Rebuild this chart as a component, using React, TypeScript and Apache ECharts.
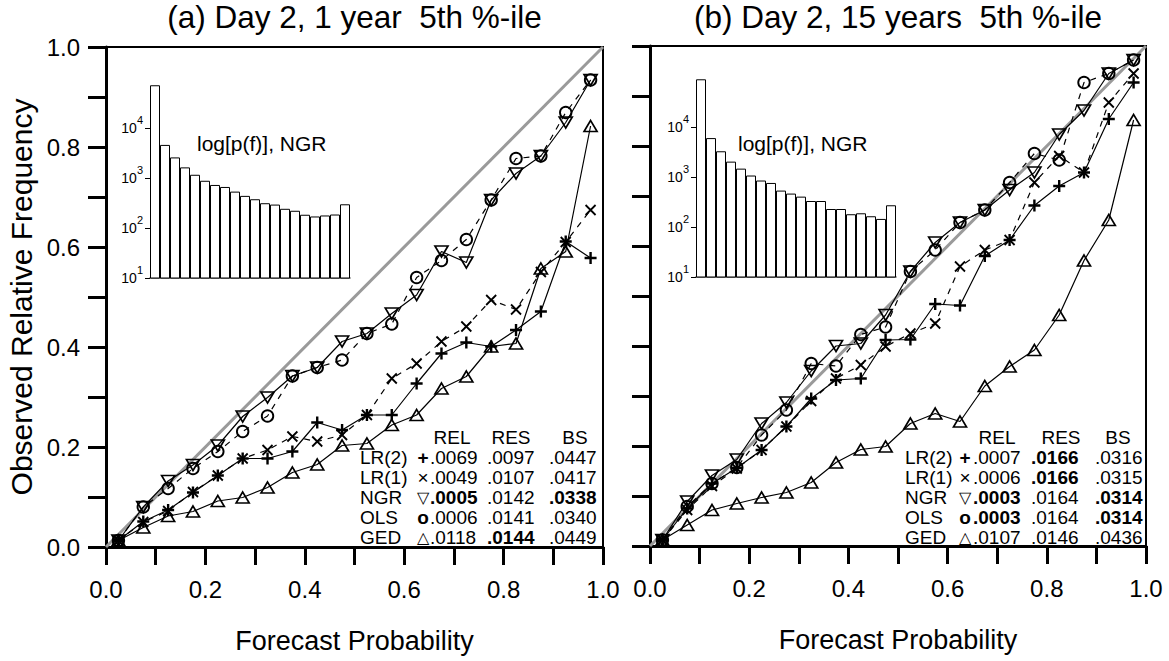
import React, { useEffect, useRef } from 'react';
import * as echarts from 'echarts';

// ---------- data ----------
const bins = [0.025, 0.075, 0.125, 0.175, 0.225, 0.275, 0.325, 0.375, 0.425, 0.475, 0.525, 0.575, 0.625, 0.675, 0.725, 0.775, 0.825, 0.875, 0.925, 0.975];

// panel (a): Day 2, 1 year
const lr2A = [0.013, 0.051, 0.074, 0.109, 0.143, 0.177, 0.177, 0.191, 0.249, 0.234, 0.264, 0.264, 0.327, 0.387, 0.409, 0.401, 0.434, 0.471, 0.611, 0.578];
const lr1A = [0.013, 0.05, 0.072, 0.11, 0.143, 0.177, 0.194, 0.221, 0.211, 0.224, 0.264, 0.337, 0.367, 0.411, 0.441, 0.494, 0.475, 0.55, 0.61, 0.674];
const ngrA = [0.013, 0.08, 0.132, 0.164, 0.203, 0.261, 0.299, 0.342, 0.359, 0.411, 0.427, 0.467, 0.504, 0.591, 0.569, 0.694, 0.747, 0.782, 0.849, 0.934];
const olsA = [0.013, 0.08, 0.117, 0.157, 0.191, 0.231, 0.262, 0.342, 0.359, 0.374, 0.427, 0.446, 0.539, 0.573, 0.615, 0.694, 0.777, 0.782, 0.869, 0.934];
const gedA = [0.013, 0.039, 0.062, 0.071, 0.092, 0.099, 0.119, 0.149, 0.165, 0.203, 0.207, 0.244, 0.264, 0.317, 0.341, 0.401, 0.407, 0.557, 0.591, 0.842];

// panel (b): Day 2, 15 years
const lr2B = [0.012, 0.075, 0.125, 0.156, 0.192, 0.239, 0.295, 0.332, 0.335, 0.412, 0.413, 0.484, 0.481, 0.58, 0.612, 0.681, 0.72, 0.747, 0.854, 0.927];
const lr1B = [0.012, 0.072, 0.12, 0.155, 0.192, 0.239, 0.29, 0.335, 0.362, 0.399, 0.425, 0.445, 0.559, 0.592, 0.612, 0.727, 0.78, 0.747, 0.887, 0.945];
const ngrB = [0.012, 0.089, 0.141, 0.173, 0.245, 0.287, 0.35, 0.4, 0.405, 0.462, 0.549, 0.607, 0.647, 0.672, 0.712, 0.747, 0.823, 0.871, 0.945, 0.972];
const olsB = [0.012, 0.079, 0.125, 0.157, 0.222, 0.272, 0.365, 0.36, 0.423, 0.438, 0.549, 0.592, 0.647, 0.672, 0.727, 0.785, 0.772, 0.927, 0.945, 0.972];
const gedB = [0.012, 0.042, 0.072, 0.085, 0.097, 0.107, 0.127, 0.167, 0.193, 0.199, 0.245, 0.265, 0.249, 0.32, 0.359, 0.392, 0.462, 0.571, 0.652, 0.852];

// inset histograms: counts per forecast bin (NGR)
const histA = [71600, 4590, 2580, 1630, 1160, 880, 726, 662, 534, 439, 376, 313, 294, 242, 221, 184, 170, 178, 186, 298];
const histB = [90000, 6000, 3270, 2030, 1470, 1070, 850, 760, 535, 466, 405, 331, 331, 229, 229, 180, 188, 164, 145, 272];
const histTicks = [10, 100, 1000, 10000];

// score tables
const tableHeader = ['REL', 'RES', 'BS'];
const methodNames = ['LR(2)', 'LR(1)', 'NGR', 'OLS', 'GED'];
const methodGlyphs = ['+', '×', '▽', 'o', '△'];
const tableA = [
  ['.0069', '.0097', '.0447'],
  ['.0049', '.0107', '.0417'],
  ['.0005', '.0142', '.0338'],
  ['.0006', '.0141', '.0340'],
  ['.0118', '.0144', '.0449'],
];
const boldA = [
  [false, false, false],
  [false, false, false],
  [true, false, true],
  [false, false, false],
  [false, true, false],
];
const tableB = [
  ['.0007', '.0166', '.0316'],
  ['.0006', '.0166', '.0315'],
  ['.0003', '.0164', '.0314'],
  ['.0003', '.0164', '.0314'],
  ['.0107', '.0146', '.0436'],
];
const boldB = [
  [false, true, false],
  [false, true, false],
  [true, false, true],
  [true, false, true],
  [false, false, false],
];

const titleA = '(a) Day 2, 1 year  5th %-ile';
const titleB = '(b) Day 2, 15 years  5th %-ile';

// ---------- layout / style ----------
const FONT = '"Liberation Sans", Arial, Helvetica, sans-serif';
const GA = { left: 106, top: 47, width: 497, height: 500 };
const GB = { left: 650, top: 46, width: 496, height: 500 };
const IA = { left: 150, top: 78, width: 200, height: 200 };
const IB = { left: 696, top: 77, width: 200, height: 200 };

const PLUS = 'path://M-5,0L5,0M0,-5L0,5';
const CROSS = 'path://M-5,-5L5,5M-5,5L5,-5';

const markerStyles: any = {
  lr2: { symbol: PLUS, size: 12, rotate: 0, dashed: false, bw: 2.4 },
  lr1: { symbol: CROSS, size: 10, rotate: 0, dashed: true, bw: 1.8 },
  ngr: { symbol: 'triangle', size: [13, 11], rotate: 180, dashed: false, bw: 1.7 },
  ols: { symbol: 'circle', size: 11.5, rotate: 0, dashed: true, bw: 1.9 },
  ged: { symbol: 'triangle', size: [13, 11], rotate: 0, dashed: false, bw: 1.7 },
};

function lineSeries(name: string, values: number[], idx: number, key: string) {
  const st = markerStyles[key];
  return {
    type: 'line',
    name,
    xAxisIndex: idx,
    yAxisIndex: idx,
    data: bins.map((b, i) => [b, values[i]]),
    symbol: st.symbol,
    symbolSize: st.size,
    symbolRotate: st.rotate,
    showAllSymbol: true,
    lineStyle: { color: '#000', width: 1.2, type: st.dashed ? [6, 6] : 'solid' },
    itemStyle: { color: 'none', borderColor: '#000', borderWidth: st.bw },
    emphasis: { disabled: true },
    silent: true,
    z: 4,
  };
}

function mainX(gridIndex: number) {
  return {
    type: 'value',
    gridIndex,
    min: 0,
    max: 1,
    interval: 0.1,
    axisLine: { show: true, onZero: false, lineStyle: { color: '#000', width: 3 } },
    axisTick: { show: true, inside: false, length: 18, lineStyle: { color: '#000', width: 3 } },
    axisLabel: {
      show: true,
      margin: 30,
      fontSize: 24,
      color: '#000',
      fontFamily: FONT,
      showMinLabel: true,
      showMaxLabel: true,
      formatter: (v: number) => (Math.round(v * 10) % 2 === 0 ? v.toFixed(1) : ''),
    },
    splitLine: { show: false },
    name: 'Forecast Probability',
    nameLocation: 'middle',
    nameGap: 80,
    nameTextStyle: { fontSize: 27, color: '#000', fontFamily: FONT },
  };
}

function mainY(gridIndex: number, labels: boolean) {
  return {
    type: 'value',
    gridIndex,
    min: 0,
    max: 1,
    interval: 0.1,
    axisLine: { show: true, onZero: false, lineStyle: { color: '#000', width: 3 } },
    axisTick: { show: true, inside: false, length: 18, lineStyle: { color: '#000', width: 3 } },
    axisLabel: {
      show: labels,
      margin: 26,
      fontSize: 24,
      color: '#000',
      fontFamily: FONT,
      showMinLabel: true,
      showMaxLabel: true,
      formatter: (v: number) => (Math.round(v * 10) % 2 === 0 ? v.toFixed(1) : ''),
    },
    splitLine: { show: false },
    name: labels ? 'Observed Relative Frequency' : '',
    nameLocation: 'middle',
    nameGap: 70,
    nameTextStyle: { fontSize: 30, color: '#000', fontFamily: FONT },
  };
}

function insetX(gridIndex: number) {
  return {
    type: 'category',
    gridIndex,
    data: bins.map((b) => String(b)),
    boundaryGap: true,
    axisLine: { show: true, lineStyle: { color: '#555', width: 1.5 } },
    axisTick: { show: false },
    axisLabel: { show: false },
    splitLine: { show: false },
  };
}

function insetY(gridIndex: number) {
  return {
    type: 'log',
    logBase: 10,
    gridIndex,
    min: 10,
    max: 100000,
    axisLine: { show: false },
    axisTick: { show: true, inside: false, length: 5, customValues: histTicks, lineStyle: { color: '#000', width: 1 } },
    axisLabel: {
      show: true,
      margin: 7,
      customValues: histTicks,
      formatter: (v: number) => `{b|10}{s|${Math.round(Math.log10(v))}}`,
      rich: {
        b: { fontSize: 14, fontFamily: FONT, color: '#000' },
        s: { fontSize: 11, fontFamily: FONT, color: '#000', lineHeight: 11, padding: [0, 0, 16, 0] },
      },
    },
    splitLine: { show: false },
  };
}

function barSeries(values: number[], idx: number) {
  return {
    type: 'bar',
    name: 'log[p(f)], NGR',
    xAxisIndex: idx,
    yAxisIndex: idx,
    data: values,
    barCategoryGap: '0%',
    itemStyle: { color: '#fff', borderColor: '#000', borderWidth: 1 },
    clip: true,
    silent: true,
    emphasis: { disabled: true },
    z: 6,
  };
}

function diagSeries(idx: number) {
  return {
    type: 'line',
    name: 'perfect',
    xAxisIndex: idx,
    yAxisIndex: idx,
    data: [[0, 0], [1, 1]],
    symbol: 'none',
    lineStyle: { color: '#9a9a9a', width: 3 },
    silent: true,
    z: 2,
  };
}

const TABLE_FONT = 19;

function tableGraphics(g: any, rows: string[][], bold: boolean[][], cfg: any) {
  const out: any[] = [];
  const base = g.top + g.height;
  const txt = (text: string, x: number, y: number, align: string, weight = 'normal', size = TABLE_FONT) => ({
    type: 'text',
    x,
    y,
    silent: true,
    style: { text, fontSize: size, fontFamily: FONT, fontWeight: weight, fill: '#000', align, verticalAlign: 'middle', lineHeight: 19 },
  });
  tableHeader.forEach((h, j) => out.push(txt(h, g.left + cfg.head[j], base + cfg.headY, 'center')));
  methodNames.forEach((m, i) => {
    const y = base + cfg.headY + 20 * (i + 1);
    out.push(txt(m, g.left + cfg.label, y, 'left'));
    out.push(txt(methodGlyphs[i], g.left + cfg.sym, y, 'center', i === 0 || i === 3 ? 'bold' : 'normal', i === 2 || i === 4 ? 16 : TABLE_FONT));
    rows[i].forEach((v, j) => out.push(txt(v, g.left + cfg.cols[j], y, 'left', bold[i][j] ? 'bold' : 'normal')));
  });
  return out;
}

const tableCfgA = { label: 254, sym: 317, cols: [324, 381, 443], head: [346, 405, 469], headY: -110 };
const tableCfgB = { label: 255, sym: 315, cols: [323, 381, 445], head: [347, 411, 468], headY: -109 };

export default function App() {
  const ref = useRef<HTMLDivElement>(null);
  useEffect(() => {
    document.body.style.margin = '0';
    if (!ref.current) return;
    const chart = echarts.init(ref.current, undefined, { renderer: 'svg' });
    const option: any = {
      animation: false,
      backgroundColor: '#fff',
      grid: [
        { ...GA, show: true, borderColor: '#000', borderWidth: 2, backgroundColor: 'transparent', outerBoundsMode: 'none', containLabel: false },
        { ...GB, show: true, borderColor: '#000', borderWidth: 2, backgroundColor: 'transparent', outerBoundsMode: 'none', containLabel: false },
        { ...IA, show: false, outerBoundsMode: 'none', containLabel: false },
        { ...IB, show: false, outerBoundsMode: 'none', containLabel: false },
      ],
      xAxis: [mainX(0), mainX(1), insetX(2), insetX(3)],
      yAxis: [mainY(0, true), mainY(1, false), insetY(2), insetY(3)],
      series: [
        diagSeries(0),
        diagSeries(1),
        barSeries(histA, 2),
        barSeries(histB, 3),
        lineSeries('GED', gedA, 0, 'ged'),
        lineSeries('LR(2)', lr2A, 0, 'lr2'),
        lineSeries('LR(1)', lr1A, 0, 'lr1'),
        lineSeries('OLS', olsA, 0, 'ols'),
        lineSeries('NGR', ngrA, 0, 'ngr'),
        lineSeries('GED', gedB, 1, 'ged'),
        lineSeries('LR(2)', lr2B, 1, 'lr2'),
        lineSeries('LR(1)', lr1B, 1, 'lr1'),
        lineSeries('OLS', olsB, 1, 'ols'),
        lineSeries('NGR', ngrB, 1, 'ngr'),
      ],
      graphic: [
        {
          type: 'text', x: GA.left + GA.width / 2, y: 17, silent: true,
          style: { text: titleA, fontSize: 31.5, fontFamily: FONT, fill: '#000', align: 'center', verticalAlign: 'middle' },
        },
        {
          type: 'text', x: GB.left + GB.width / 2, y: 17, silent: true,
          style: { text: titleB, fontSize: 31.5, fontFamily: FONT, fill: '#000', align: 'center', verticalAlign: 'middle' },
        },
        {
          type: 'text', x: IA.left + 47, y: IA.top + 65, silent: true, z: 10,
          style: { text: 'log[p(f)], NGR', fontSize: 21, fontFamily: FONT, fill: '#000', align: 'left', verticalAlign: 'middle' },
        },
        {
          type: 'text', x: IB.left + 42, y: IB.top + 66, silent: true, z: 10,
          style: { text: 'log[p(f)], NGR', fontSize: 21, fontFamily: FONT, fill: '#000', align: 'left', verticalAlign: 'middle' },
        },
        ...tableGraphics(GA, tableA, boldA, tableCfgA),
        ...tableGraphics(GB, tableB, boldB, tableCfgB),
      ],
    };
    chart.setOption(option);
    return () => chart.dispose();
  }, []);
  return <div ref={ref} style={{ width: 1169, height: 661 }} />;
}
